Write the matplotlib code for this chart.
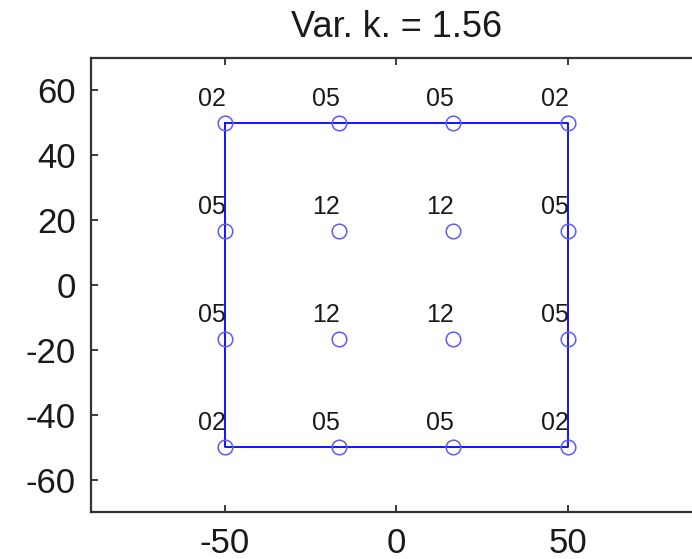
import matplotlib
matplotlib.use("Agg")
import matplotlib.pyplot as plt

plt.rcParams['font.family'] = ['Liberation Sans', 'DejaVu Sans']
plt.rcParams['axes.unicode_minus'] = False

# Grid node coordinates and their labels
xs = [-50, -16.67, 16.67, 50]
ys = [50, 16.67, -16.67, -50]
labels = [
    ["02", "05", "05", "02"],
    ["05", "12", "12", "05"],
    ["05", "12", "12", "05"],
    ["02", "05", "05", "02"],
]
# Outline of the bounding square
box_x = [-50, 50, 50, -50, -50]
box_y = [50, 50, -50, -50, 50]
title = "Var. k. = 1.56"

fig = plt.figure(figsize=(6.92, 5.59), dpi=100)
ax = fig.add_axes([91 / 692, 47 / 559, 610.5 / 692, 454 / 559])

ax.plot(box_x, box_y, color="#0000ff", lw=1.3, zorder=2)

px = [x for y in ys for x in xs]
py = [y for y in ys for x in xs]
ax.plot(px, py, linestyle="none", marker="o", markersize=10.5,
        markerfacecolor="none", markeredgecolor="#5a5aff", markeredgewidth=1.1,
        zorder=3)

for i, y in enumerate(ys):
    for j, x in enumerate(xs):
        ax.annotate(labels[i][j], (x, y), xytext=(0.5, 8.5), textcoords="offset points",
                    ha="right", va="bottom", fontsize=18, color="#1a1a1a", zorder=4)

ax.set_xlim(-89, 89)
ax.set_ylim(-70, 70)
ax.set_xticks([-50, 0, 50])
ax.set_yticks([60, 40, 20, 0, -20, -40, -60])
ax.tick_params(direction="in", length=5, width=1.2, labelsize=25, colors="#1a1a1a",
               top=True, right=True, pad=11)
for s in ax.spines.values():
    s.set_linewidth(1.6)
    s.set_color("#333333")

ax.set_title(title, fontsize=26, color="#1a1a1a", pad=15)

fig.savefig("out.png", dpi=100)
